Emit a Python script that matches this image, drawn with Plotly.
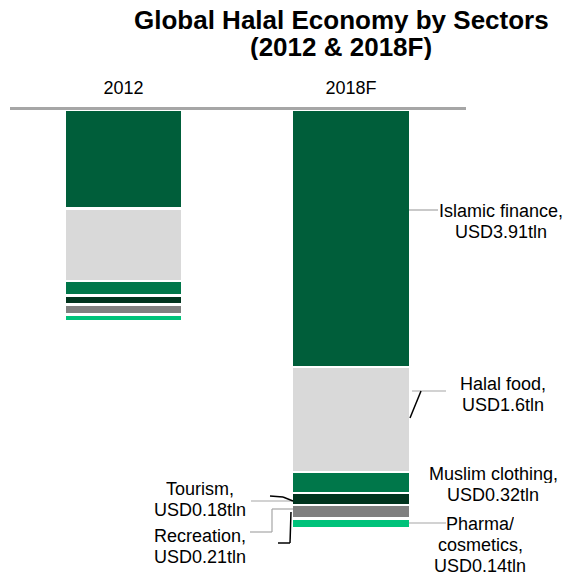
import plotly.graph_objects as go

# Sector sizes, USD trillion
categories = ["2012", "2018F"]
sectors = ["Islamic finance", "Halal food", "Muslim clothing", "Tourism", "Recreation", "Pharma/cosmetics"]
islamic_finance = [1.50, 3.91]
halal_food = [1.10, 1.6]
muslim_clothing = [0.22, 0.32]
tourism = [0.14, 0.18]
recreation = [0.15, 0.21]
pharma_cosmetics = [0.10, 0.14]
colors = ["#005E3A", "#D9D9D9", "#00774A", "#00341E", "#808080", "#00C27A"]

series = [islamic_finance, halal_food, muslim_clothing, tourism, recreation, pharma_cosmetics]

W, H = 566, 576
FONT = "Liberation Sans, Arial, sans-serif"

# axis geometry (pixels)
DOM_L, DOM_R = 10, 466
TOP = 110
PX_PER_CAT = 227.5
PX_PER_UNIT = 65.7
X0 = -(123.5 - DOM_L) / PX_PER_CAT
X1 = X0 + (DOM_R - DOM_L) / PX_PER_CAT
Y1 = (H - TOP) / PX_PER_UNIT


def px2x(px):
    return X0 + (px - DOM_L) / PX_PER_CAT


def px2y(py):
    return (py - TOP) / PX_PER_UNIT


def paper_x(px):
    return px / W


def paper_y(py):
    return 1 - (py - TOP) / (H - TOP)


fig = go.Figure()
for name, vals, col in zip(sectors, series, colors):
    fig.add_trace(go.Bar(
        x=[0, 1], y=vals, name=name,
        marker=dict(color=col, line=dict(color="white", width=2.5)),
        width=118 / PX_PER_CAT,
    ))

# leader lines
def seg(x0, y0, x1, y1, color="#A6A6A6", w=1.2):
    fig.add_shape(type="line", xref="x", yref="y",
                  x0=px2x(x0), y0=px2y(y0), x1=px2x(x1), y1=px2y(y1),
                  line=dict(color=color, width=w))

seg(409, 210, 438, 210)                       # Islamic finance
seg(412, 391, 446, 391)                       # Halal food
seg(410, 418, 421, 391, color="black", w=1.5)
seg(409, 523, 446, 523)                       # Pharma/cosmetics
seg(251, 501, 293, 501)                       # Tourism
seg(270, 496, 283, 497, color="black", w=1.5)
seg(283, 497, 293, 501, color="black", w=1.5)
seg(250, 532, 272, 532)                       # Recreation
seg(272, 532, 272, 509)
seg(272, 509, 293, 509)
seg(278, 543, 290, 543, color="black", w=1.5)
seg(290, 543, 291, 512, color="black", w=1.5)

# sector labels: lines, centre x, centre y of first line (pixels)
LINE_GAP = 21.2
labels = [
    (["Islamic finance,", "USD3.91tln"], 501, 210),
    (["Halal food,", "USD1.6tln"], 503, 383),
    (["Muslim clothing,", "USD0.32tln"], 493, 473),
    (["Pharma/", "cosmetics,", "USD0.14tln"], 480, 523),
    (["Tourism,", "USD0.18tln"], 200, 488),
    (["Recreation,", "USD0.21tln"], 200, 535),
]
for lines, cx, cy in labels:
    for i, line in enumerate(lines):
        fig.add_annotation(x=paper_x(cx), y=paper_y(cy + i * LINE_GAP),
                           xref="paper", yref="paper", text=line,
                           showarrow=False, xanchor="center", yanchor="middle",
                           height=19, borderpad=0,
                           font=dict(family=FONT, size=18, color="black"))

for txt, cy in [("<b>Global Halal Economy by Sectors</b>", 20), ("<b>(2012 & 2018F)</b>", 47)]:
    fig.add_annotation(x=paper_x(341), y=paper_y(cy), xref="paper", yref="paper",
                       text=txt, showarrow=False, xanchor="center", yanchor="middle",
                       height=26, borderpad=0,
                       font=dict(family=FONT, size=26, color="black"))

fig.update_layout(
    width=W, height=H,
    margin=dict(l=0, r=0, t=TOP, b=0),
    barmode="stack",
    showlegend=False,
    plot_bgcolor="white", paper_bgcolor="white",
    xaxis=dict(domain=[DOM_L / W, DOM_R / W], range=[X0, X1], side="top",
               tickvals=[0, 1], ticktext=categories, ticks="",
               ticklabelstandoff=6,
               tickfont=dict(family=FONT, size=18, color="black"),
               showline=True, linecolor="#A6A6A6", linewidth=2.5,
               showgrid=False, zeroline=False, fixedrange=True),
    yaxis=dict(range=[Y1, 0], visible=False, showgrid=False, zeroline=False, fixedrange=True),
)

fig.write_html("out.html")
